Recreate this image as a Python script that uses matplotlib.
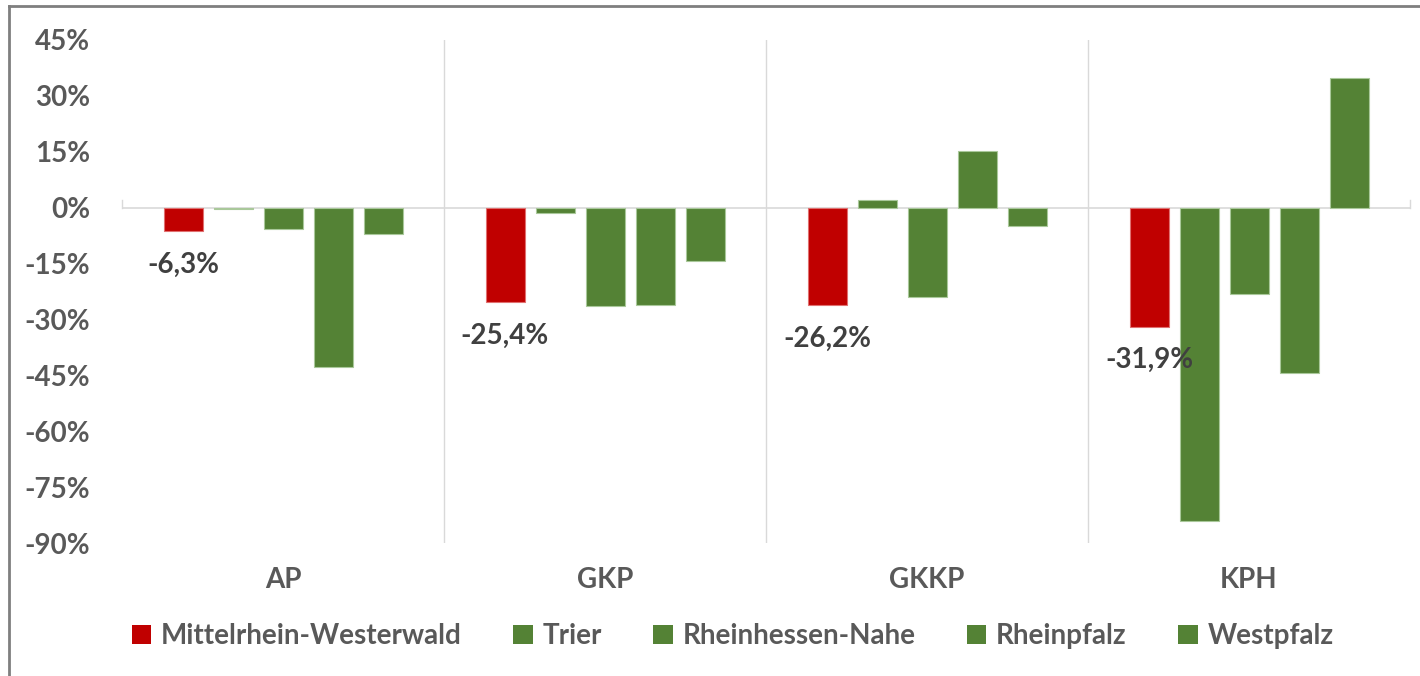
import numpy as np
import matplotlib
matplotlib.use("Agg")
import matplotlib.pyplot as plt
from matplotlib.lines import Line2D
from matplotlib.patches import Patch

plt.rcParams['font.family'] = ['Lato', 'DejaVu Sans']

# Categories and regions
categories = ["AP", "GKP", "GKKP", "KPH"]
regions = ["Mittelrhein-Westerwald", "Trier", "Rheinhessen-Nahe",
           "Rheinpfalz", "Westpfalz"]

# Change in percent, one list per region
mittelrhein = [-6.3, -25.4, -26.2, -31.9]
trier = [-0.4, -1.4, 2.0, -84.1]
rheinhessen = [-5.6, -26.5, -24.1, -23.1]
rheinpfalz = [-42.7, -26.2, 15.2, -44.5]
westpfalz = [-7.1, -14.4, -4.8, 34.7]

# Labels shown under the red bars
red_labels = ["-6,3%", "-25,4%", "-26,2%", "-31,9%"]

yticks = [45, 30, 15, 0, -15, -30, -45, -60, -75, -90]

red = "#c00000"
green = "#548235"
text_grey = "#595959"

series = [mittelrhein, trier, rheinhessen, rheinpfalz, westpfalz]
colors = [red, green, green, green, green]

fig = plt.figure(figsize=(14.2, 6.76), dpi=100)
ax = fig.add_axes([122 / 1420, 1 - 543 / 676, 1288 / 1420, 503 / 676])

x = np.arange(len(categories))
step = 50 / 322
width = 39 / 322
for i, (vals, col) in enumerate(zip(series, colors)):
    ax.bar(x + (i - 2) * step, vals, width, color=col,
           edgecolor="#a9c89a" if col == green else "#e07070", linewidth=0.8,
           zorder=3)

# Data labels below the red bars
for xi, v, lab in zip(x, mittelrhein, red_labels):
    ax.text(xi - 2 * step, v - 9, lab, ha="center", va="center",
            fontsize=20, fontweight="bold", color="#404040", zorder=4)

ax.set_xlim(-0.5, 3.5)
ax.set_ylim(-90, 45)
ax.axhline(0, color="#d9d9d9", linewidth=1.2, zorder=2)
for b in [0.5, 1.5, 2.5]:
    ax.axvline(b, color="#d9d9d9", linewidth=1, zorder=1)
# tiny axis ticks at the ends of the zero line
ax.plot([-0.5, -0.5], [0, 2], color="#d9d9d9", lw=1, clip_on=False)
ax.plot([3.5, 3.5], [0, 2], color="#d9d9d9", lw=1, clip_on=False)

ax.set_yticks(yticks)
ax.set_yticklabels([f"{t}%" for t in yticks], fontsize=20,
                   fontweight="bold", color=text_grey)
ax.tick_params(axis="y", length=0, pad=23)
ax.set_xticks(x)
ax.set_xticklabels(categories, fontsize=20, fontweight="bold",
                   color=text_grey)
ax.tick_params(axis="x", length=0, pad=17)
for s in ax.spines.values():
    s.set_visible(False)

handles = [Patch(facecolor=c, edgecolor="none") for c in colors]
fig.legend(handles, regions, loc="center", bbox_to_anchor=(0.516, 1 - 636 / 676),
           ncol=5, frameon=False, handlelength=0.7,
           handleheight=0.7, handletextpad=0.35, columnspacing=1.85,
           labelcolor=text_grey, prop={"weight": "bold", "size": 20})

# outer frame (top and left edge only)
fig.add_artist(Line2D([9 / 1420, 9 / 1420], [0, 1 - 6 / 676],
                      color="#7f7f7f", lw=2))
fig.add_artist(Line2D([9 / 1420, 1], [1 - 6 / 676, 1 - 6 / 676],
                      color="#7f7f7f", lw=2))

fig.savefig("out.png", dpi=100, facecolor="white")
